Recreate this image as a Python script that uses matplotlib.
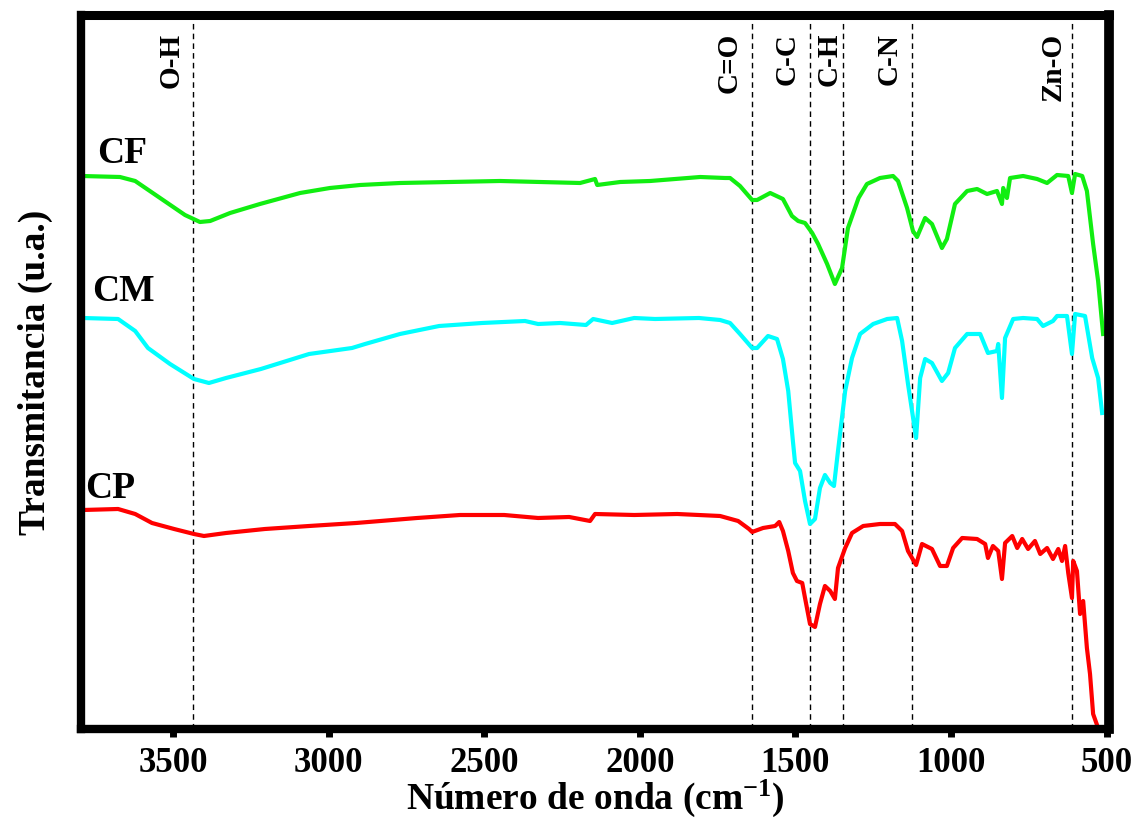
import numpy as np
import matplotlib
matplotlib.use("Agg")
import matplotlib.pyplot as plt
from matplotlib.ticker import MultipleLocator
import matplotlib.transforms as mtransforms

# FTIR spectra (wavenumber cm-1, transmittance a.u.)
cf_wn = [3793, 3671, 3622, 3542, 3462, 3414, 3381, 3317, 3221, 3092, 2996, 2899,
         2771, 2610, 2449, 2321, 2192, 2144, 2137, 2063, 1967, 1806, 1726, 1710,
         1678, 1639, 1623, 1581, 1540, 1511, 1491, 1469, 1446, 1427, 1398, 1373,
         1350, 1331, 1297, 1270, 1228, 1186, 1170, 1141, 1122, 1109, 1083, 1061,
         1029, 1013, 987, 948, 916, 884, 852, 836, 832, 820, 810, 768, 723, 691,
         659, 623, 611, 601, 578, 563, 543, 527, 511]
cf_t = [553, 552, 548, 531, 514, 507, 508, 516, 525, 536, 541, 544,
        546, 547, 548, 547, 546, 550, 544, 547, 548, 552, 551, 551,
        543, 529, 529, 536, 530, 513, 508, 506, 496, 485, 465, 445,
        461, 501, 531, 545, 551, 553, 548, 521, 498, 492, 511, 505,
        481, 490, 525, 538, 540, 535, 538, 525, 541, 531, 551, 553, 550, 546,
        554, 553, 536, 555, 553, 538, 485, 448, 395]

cm_wn = [3790, 3677, 3622, 3581, 3510, 3433, 3385, 3330, 3218, 3063, 2925, 2883,
         2771, 2645, 2507, 2369, 2327, 2256, 2173, 2150, 2089, 2018, 1951, 1810,
         1742, 1710, 1678, 1639, 1623, 1588, 1559, 1540, 1523, 1508, 1501, 1485,
         1469, 1453, 1437, 1421, 1405, 1388, 1376, 1363, 1340, 1318, 1292, 1250,
         1205, 1173, 1157, 1138, 1125, 1112, 1099, 1083, 1061, 1029, 1009, 987,
         948, 906, 881, 852, 848, 836, 826, 800, 768, 723, 704, 672, 659, 627,
         611, 601, 569, 546, 527, 514]
cm_t = [411, 410, 398, 381, 365, 350, 346, 351, 360, 375, 381, 385,
        395, 403, 406, 408, 405, 406, 404, 410, 406, 411, 410, 411,
        409, 406, 395, 381, 381, 393, 390, 370, 338, 288, 266, 258,
        228, 205, 210, 241, 254, 246, 243, 278, 338, 371, 395, 405,
        410, 411, 388, 345, 318, 291, 351, 370, 366, 348, 356, 381,
        395, 395, 376, 378, 385, 331, 391, 410, 411, 410, 403, 408, 413, 413,
        375, 415, 413, 371, 351, 316]

cp_wn = [3790, 3677, 3622, 3568, 3497, 3433, 3401, 3330, 3205, 3063, 2912, 2716,
         2578, 2436, 2327, 2227, 2160, 2144, 2018, 1880, 1742, 1684, 1649, 1639,
         1604, 1565, 1552, 1540, 1523, 1508, 1495, 1478, 1469, 1453, 1437, 1421,
         1405, 1388, 1373, 1363, 1340, 1318, 1282, 1228, 1180, 1157, 1138, 1112,
         1093, 1061, 1035, 1013, 993, 964, 916, 890, 881, 865, 848, 836, 826,
         803, 787, 771, 752, 730, 713, 691, 672, 655, 643, 633, 623, 611, 607,
         595, 585, 575, 563, 553, 543, 527]
cp_t = [219, 220, 215, 206, 200, 195, 193, 196, 200, 203, 206, 211,
        214, 214, 211, 212, 208, 215, 214, 215, 213, 208, 200, 197,
        201, 203, 207, 198, 178, 156, 148, 146, 131, 105, 102, 125,
        143, 138, 130, 161, 181, 196, 203, 205, 205, 198, 178, 164,
        185, 180, 163, 163, 181, 191, 190, 185, 171, 183, 178, 150, 186,
        193, 181, 190, 180, 188, 175, 181, 170, 180, 168, 183, 156, 131, 168,
        158, 115, 128, 81, 55, 15, 1]

series = [("CF", cf_wn, cf_t, "#11ee11"),
          ("CM", cm_wn, cm_t, "#00ffff"),
          ("CP", cp_wn, cp_t, "#ff0000")]

# band assignments
band_wn = [3436, 1639, 1453, 1347, 1125, 611]
band_lbl = ["O-H", "C=O", "C-C", "C-H", "C-N", "Zn-O"]
band_dx = [-6, -7, -7, 0, -7, -4]   # label offset from line, points

# where the sample names sit (wavenumber, a.u.)
name_pos = {"CF": (3745, 566), "CM": (3761, 428), "CP": (3783, 231)}

plt.rcParams["font.family"] = ["Liberation Serif", "DejaVu Serif"]
plt.rcParams["font.weight"] = "bold"
plt.rcParams["mathtext.fontset"] = "custom"
plt.rcParams["mathtext.rm"] = "Liberation Serif:bold"
plt.rcParams["mathtext.bf"] = "Liberation Serif:bold"
plt.rcParams["mathtext.default"] = "bf"

fig = plt.figure(figsize=(11.4, 8.24), dpi=100)
ax = fig.add_axes([0.0711, 0.1153, 0.9017, 0.8665])

for name, wn, t, col in series:
    ax.plot(wn, t, color=col, lw=3.0, solid_joinstyle="round")
    x0, y0 = name_pos[name]
    ax.text(x0, y0, name, fontsize=27, fontweight="bold", ha="left", va="baseline")

tr = mtransforms.blended_transform_factory(ax.transData, ax.transAxes)
for wn, lbl, dx in zip(band_wn, band_lbl, band_dx):
    ax.axvline(wn, color="black", lw=1.0, ls=(0, (4, 3)), zorder=1)
    ax.annotate(lbl, xy=(wn, 0.975), xycoords=tr, xytext=(dx, 0),
                textcoords="offset points", rotation=90, ha="right", va="top",
                fontsize=21, fontweight="bold")

ax.set_xlim(3796, 492)
ax.set_ylim(0, 714)
ax.xaxis.set_major_locator(MultipleLocator(500))
ax.xaxis.set_minor_locator(MultipleLocator(250))
ax.set_yticks([])
ax.tick_params(axis="x", which="major", direction="out", length=6, width=5,
               labelsize=25, pad=7)
ax.tick_params(axis="x", which="minor", direction="out", length=2.5, width=4)
for lab in ax.get_xticklabels():
    lab.set_fontweight("bold")

for side, w in [("left", 6), ("bottom", 6), ("top", 6.5), ("right", 7)]:
    ax.spines[side].set_linewidth(w)

ax.set_xlabel("Número de onda (cm$^{-1}$)", fontsize=27,
              fontweight="bold", labelpad=-2)
ax.set_ylabel("Transmitancia (u.a.)", fontsize=27, fontweight="bold", labelpad=20)

fig.savefig("out.png", dpi=100)
